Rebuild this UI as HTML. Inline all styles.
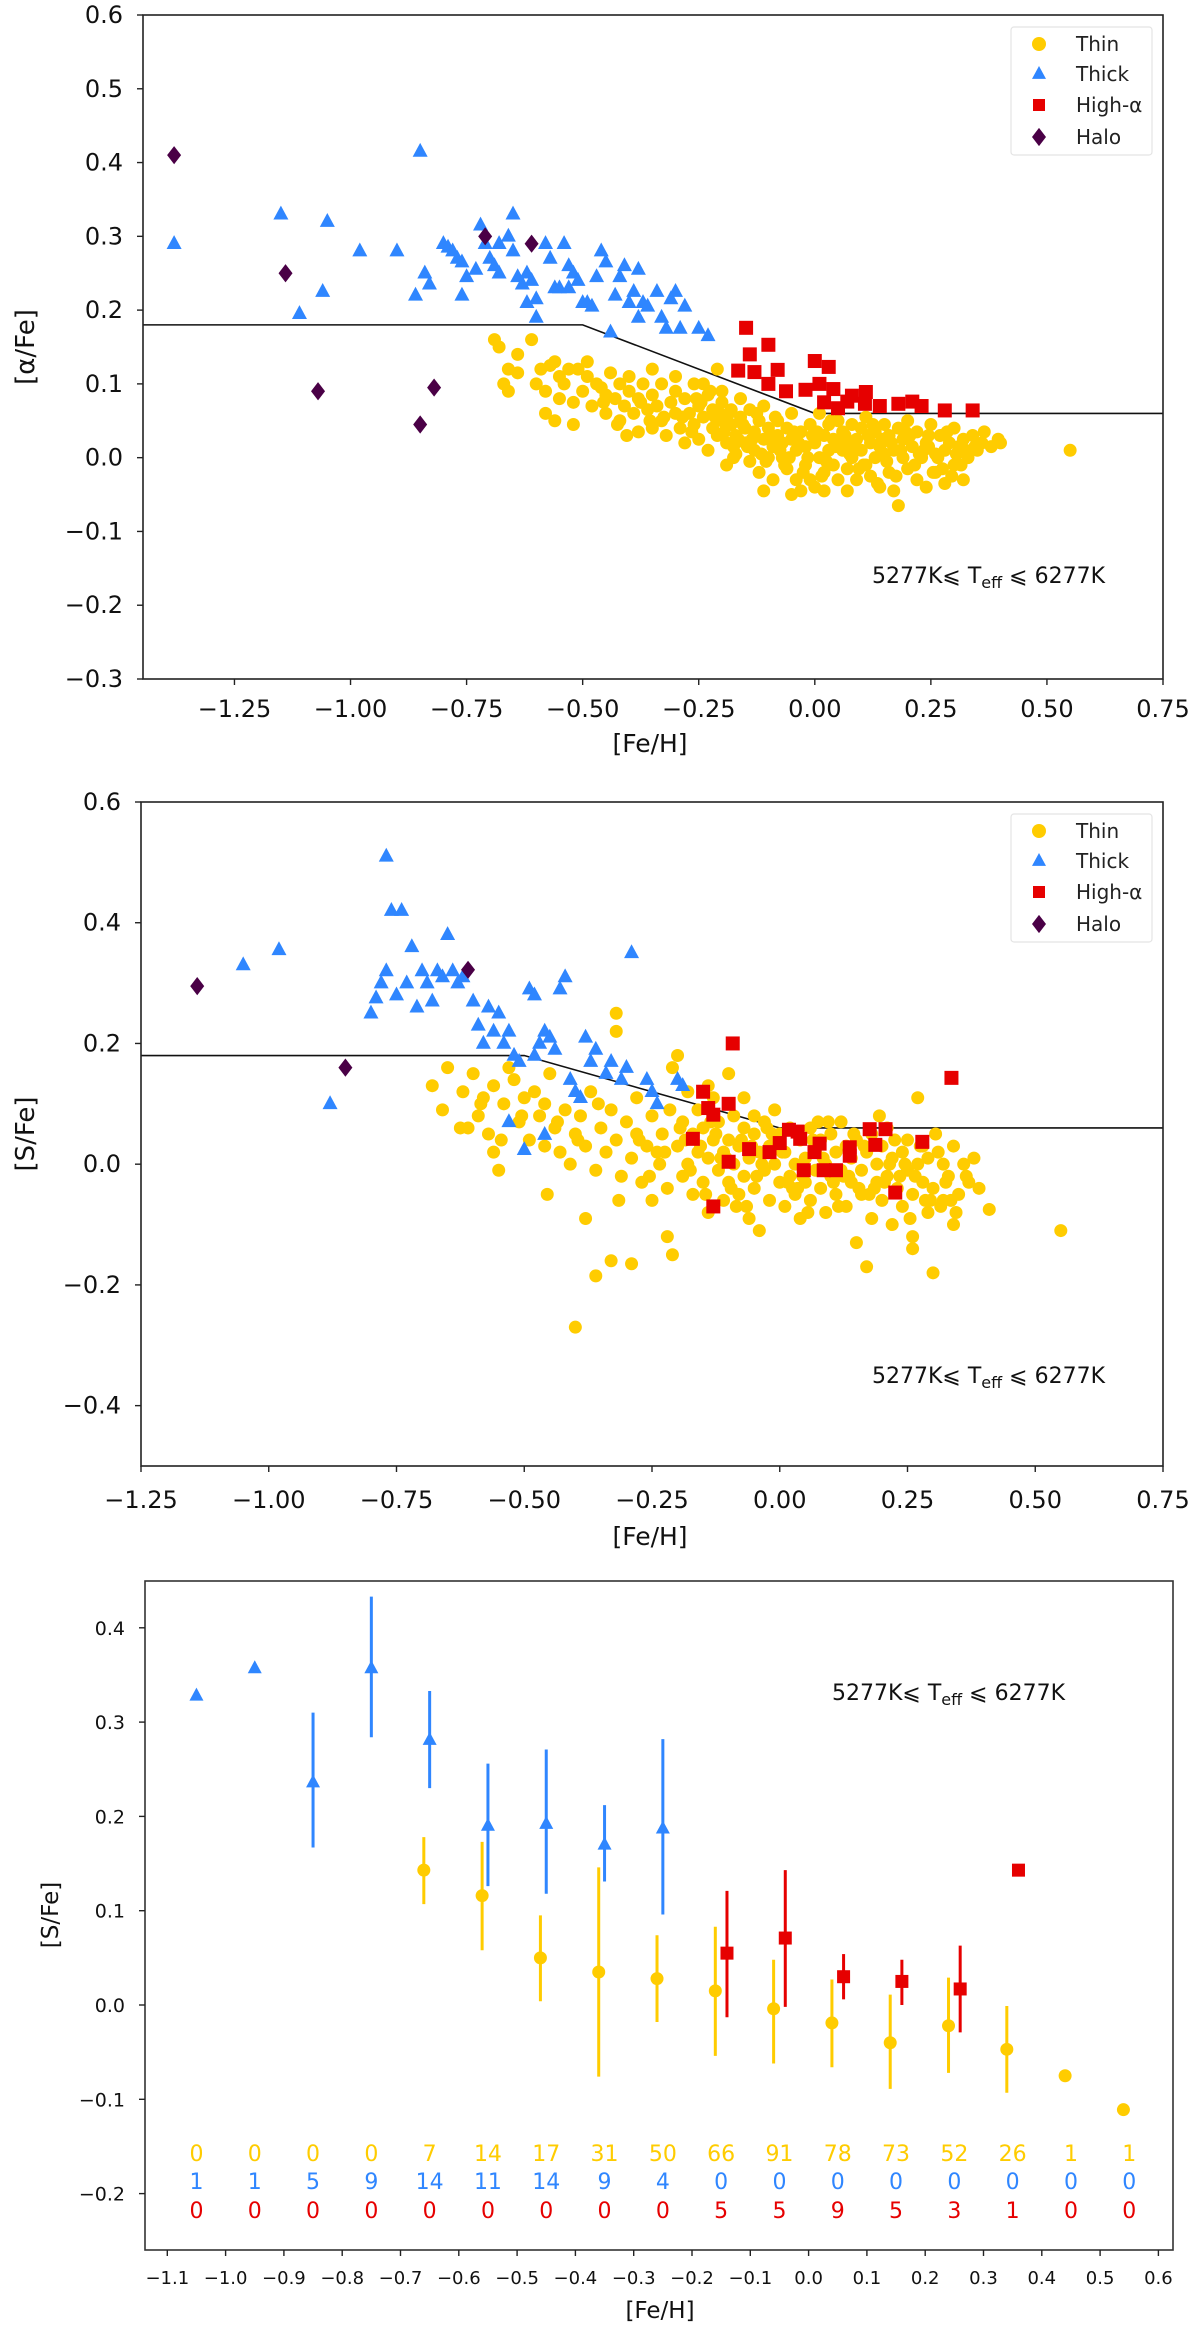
<!DOCTYPE html>
<html><head><meta charset="utf-8"><style>
html,body{margin:0;padding:0;background:#fff;}
svg{display:block;font-family:"DejaVu Sans","Liberation Sans",sans-serif;}
</style></head><body>
<svg id="fig" width="1200" height="2328" viewBox="0 0 1200 2328" xmlns="http://www.w3.org/2000/svg"></svg>
<script>
// ===== Panel 1 data: [alpha/Fe] vs [Fe/H] =====
const p1ThinX=[-0.69,-0.68,-0.64,-0.66,-0.67,-0.66,-0.64,-0.61,-0.60,-0.59,-0.58,-0.58,-0.57,-0.56,-0.55,-0.55,-0.54,-0.53,-0.52,-0.52,-0.51,-0.5,-0.49,-0.49,-0.48,-0.47,-0.46,-0.45,-0.45,-0.44,-0.43,-0.42,-0.42,-0.41,-0.40,-0.40,-0.39,-0.38,-0.38,-0.37,-0.36,-0.35,-0.35,-0.34,-0.33,-0.33,-0.32,-0.31,-0.30,-0.30,-0.29,-0.28,-0.28,-0.27,-0.26,-0.26,-0.25,-0.25,-0.24,-0.23,-0.23,-0.22,-0.22,-0.21,-0.21,-0.20,-0.20,-0.19,-0.19,-0.18,-0.18,-0.17,-0.17,-0.16,-0.16,-0.15,-0.15,-0.14,-0.14,-0.13,-0.13,-0.12,-0.12,-0.11,-0.11,-0.10,-0.10,-0.09,-0.09,-0.08,-0.08,-0.07,-0.07,-0.06,-0.06,-0.05,-0.05,-0.04,-0.04,-0.03,-0.03,-0.02,-0.02,-0.01,-0.01,0.0,0.0,0.01,0.01,0.02,0.02,0.03,0.03,0.04,0.04,0.05,0.05,0.06,0.06,0.07,0.07,0.08,0.08,0.09,0.09,0.10,0.10,0.11,0.11,0.12,0.12,0.13,0.13,0.14,0.14,0.15,0.15,0.16,0.16,0.17,0.17,0.18,0.18,0.19,0.19,0.20,0.20,0.21,0.22,0.22,0.23,0.24,0.24,0.25,0.26,0.26,0.27,0.28,0.28,0.29,0.30,0.30,0.31,0.32,0.32,0.33,0.34,0.35,0.36,0.38,0.40,0.55,-0.11,-0.05,0.07,0.02,-0.2,-0.24,-0.35,-0.56,-0.30,
-0.285,-0.265,-0.245,-0.215,-0.195,-0.175,-0.155,-0.135,-0.115,-0.095,-0.075,-0.055,-0.035,-0.015,0.005,0.025,0.045,0.065,0.085,0.105,0.125,0.145,0.165,0.185,0.205,0.225,0.245,0.265,0.285,0.305,0.325,0.345,-0.255,-0.205,-0.165,-0.125,-0.085,-0.045,-0.005,0.035,0.075,0.115,0.155,0.195,0.235,0.275,0.315,-0.145,-0.105,-0.065,-0.025,0.015,0.055,0.095,0.135,0.175,0.215,0.255,0.295,-0.185,-0.225,-0.325,-0.375,-0.425,-0.455,-0.355,-0.405,-0.175,0.245,0.365,0.395];
const p1ThinY=[0.16,0.15,0.14,0.12,0.10,0.09,0.115,0.16,0.10,0.12,0.09,0.06,0.125,0.13,0.08,0.11,0.10,0.12,0.075,0.045,0.12,0.09,0.13,0.11,0.07,0.10,0.095,0.085,0.06,0.115,0.08,0.10,0.05,0.07,0.09,0.11,0.06,0.08,0.035,0.10,0.065,0.085,0.04,0.07,0.10,0.05,0.03,0.075,0.09,0.06,0.04,0.08,0.02,0.06,0.10,0.045,0.07,0.025,0.055,0.085,0.01,0.04,0.065,0.03,0.12,0.05,0.075,0.02,-0.01,0.045,0.065,0.03,0.005,0.055,0.08,0.02,0.04,-0.005,0.065,0.035,0.01,0.05,-0.02,0.025,0.07,0.04,0.0,0.015,-0.03,0.05,0.03,0.0,0.02,0.04,-0.015,0.025,0.06,-0.03,0.01,0.035,-0.045,0.015,-0.01,0.045,-0.03,0.02,-0.04,0.0,0.06,0.03,-0.02,0.01,0.045,-0.01,0.025,-0.03,0.05,0.01,0.035,-0.015,0.02,0.045,0.0,0.025,-0.03,0.01,0.04,-0.01,0.055,0.02,-0.025,0.035,0.0,0.015,-0.04,0.045,0.005,-0.02,0.03,0.01,-0.045,0.04,-0.065,0.0,0.025,-0.015,0.05,0.015,-0.03,0.035,0.0,0.02,-0.04,0.045,0.005,-0.02,0.03,0.01,-0.035,0.02,0.04,-0.01,0.015,0.025,-0.03,0.0,0.03,0.01,0.02,0.015,0.02,0.01,-0.045,-0.05,-0.045,-0.045,0.09,0.10,0.12,0.05,0.11,
0.055,0.035,0.075,0.055,0.035,0.015,0.045,0.025,0.005,0.03,0.01,0.0,0.02,0.0,0.035,-0.005,0.015,0.03,0.015,-0.01,0.045,0.025,0.02,0.01,0.03,0.005,0.015,0.0,0.035,0.005,0.01,0.015,0.08,0.06,0.025,0.06,0.055,0.035,0.03,0.05,0.005,0.03,-0.005,0.035,0.01,-0.015,-0.01,0.015,-0.005,-0.01,-0.02,-0.025,0.02,-0.015,-0.035,-0.025,-0.01,-0.02,-0.025,0.06,0.09,0.055,0.075,0.045,0.075,0.05,0.03,0.0,0.03,0.035,0.025];
const p1ThickX=[-1.38,-1.15,-1.11,-1.05,-1.06,-0.98,-0.9,-0.85,-0.86,-0.84,-0.83,-0.8,-0.79,-0.78,-0.77,-0.76,-0.75,-0.76,-0.73,-0.72,-0.71,-0.7,-0.69,-0.68,-0.68,-0.66,-0.65,-0.65,-0.64,-0.63,-0.62,-0.62,-0.61,-0.6,-0.6,-0.58,-0.57,-0.56,-0.55,-0.54,-0.53,-0.53,-0.52,-0.51,-0.50,-0.49,-0.48,-0.46,-0.45,-0.44,-0.43,-0.42,-0.41,-0.4,-0.39,-0.38,-0.37,-0.36,-0.34,-0.33,-0.32,-0.31,-0.3,-0.29,-0.28,-0.25,-0.23,-0.38,-0.47];
const p1ThickY=[0.29,0.33,0.195,0.32,0.225,0.28,0.28,0.415,0.22,0.25,0.235,0.29,0.285,0.28,0.27,0.265,0.245,0.22,0.255,0.315,0.29,0.27,0.26,0.25,0.29,0.30,0.33,0.28,0.245,0.235,0.25,0.21,0.24,0.215,0.19,0.29,0.27,0.23,0.23,0.29,0.23,0.26,0.25,0.24,0.21,0.21,0.205,0.28,0.265,0.17,0.22,0.245,0.26,0.21,0.225,0.19,0.21,0.205,0.225,0.19,0.175,0.215,0.225,0.175,0.205,0.175,0.165,0.255,0.245];
const p1HighX=[-0.148,-0.10,-0.14,-0.165,-0.13,-0.08,-0.10,-0.062,-0.02,0.0,0.03,0.01,0.04,0.02,0.05,0.08,0.11,0.108,0.14,0.18,0.21,0.23,0.28,0.34,0.07];
const p1HighY=[0.176,0.153,0.14,0.118,0.116,0.119,0.10,0.09,0.092,0.131,0.123,0.10,0.093,0.075,0.067,0.084,0.089,0.073,0.07,0.073,0.076,0.07,0.064,0.064,0.076];
const p1HaloX=[-1.38,-1.14,-1.07,-0.85,-0.82,-0.71,-0.61];
const p1HaloY=[0.41,0.25,0.09,0.045,0.095,0.30,0.29];
const p1TicksX=[-1.25,-1.00,-0.75,-0.50,-0.25,0.00,0.25,0.50,0.75];
const p1TicksY=[0.6,0.5,0.4,0.3,0.2,0.1,0.0,-0.1,-0.2,-0.3];

// ===== Panel 2 data: [S/Fe] vs [Fe/H] =====
const p2ThinX=[-0.68,-0.66,-0.65,-0.62,-0.61,-0.60,-0.59,-0.58,-0.57,-0.56,-0.56,-0.55,-0.54,-0.53,-0.52,-0.51,-0.50,-0.49,-0.48,-0.47,-0.46,-0.46,-0.45,-0.44,-0.43,-0.42,-0.41,-0.40,-0.40,-0.39,-0.38,-0.38,-0.37,-0.36,-0.36,-0.35,-0.34,-0.33,-0.33,-0.32,-0.32,-0.32,-0.31,-0.30,-0.29,-0.29,-0.28,-0.28,-0.27,-0.26,-0.25,-0.25,-0.24,-0.23,-0.22,-0.22,-0.21,-0.21,-0.20,-0.20,-0.19,-0.19,-0.18,-0.18,-0.17,-0.17,-0.16,-0.16,-0.15,-0.15,-0.14,-0.14,-0.13,-0.13,-0.12,-0.12,-0.11,-0.11,-0.10,-0.10,-0.09,-0.09,-0.08,-0.08,-0.07,-0.07,-0.06,-0.06,-0.05,-0.05,-0.04,-0.04,-0.03,-0.03,-0.02,-0.02,-0.01,-0.01,0.0,0.0,0.01,0.01,0.02,0.02,0.03,0.03,0.04,0.04,0.05,0.05,0.06,0.06,0.07,0.07,0.08,0.08,0.09,0.09,0.10,0.10,0.11,0.11,0.12,0.12,0.13,0.13,0.14,0.14,0.15,0.15,0.16,0.16,0.17,0.17,0.18,0.18,0.19,0.19,0.20,0.20,0.21,0.21,0.22,0.22,0.23,0.24,0.24,0.25,0.25,0.26,0.26,0.27,0.27,0.28,0.28,0.29,0.29,0.30,0.30,0.31,0.32,0.32,0.33,0.34,0.34,0.35,0.36,0.37,0.38,0.39,0.41,0.55,-0.10,-0.07,-0.14,-0.05,0.26,
-0.275,-0.235,-0.195,-0.155,-0.115,-0.075,-0.035,0.005,0.045,0.085,0.125,0.165,0.205,0.245,0.285,0.325,0.365,-0.255,-0.215,-0.175,-0.135,-0.095,-0.055,-0.015,0.025,0.065,0.105,0.145,0.185,0.225,0.265,0.305,0.345,-0.225,-0.185,-0.145,-0.105,-0.065,-0.025,0.015,0.055,0.095,0.135,0.175,0.215,0.255,0.295,0.335,-0.435,-0.395,-0.355,-0.315,-0.455,-0.505,-0.545,-0.585,-0.625,0.035,0.075,0.115,0.155,0.195,-0.045,-0.085,-0.125,0.235,0.275,0.315];
const p2ThinY=[0.13,0.09,0.16,0.12,0.06,0.15,0.08,0.11,0.05,0.02,0.13,-0.01,0.10,0.16,0.14,0.07,0.11,0.04,0.12,0.08,0.03,0.10,0.15,0.06,0.02,0.09,0.0,0.05,-0.27,0.08,-0.09,0.03,0.12,-0.01,-0.185,0.06,0.02,-0.16,0.09,0.25,0.22,0.04,-0.02,0.07,-0.165,0.01,0.11,0.05,-0.03,0.03,0.08,-0.06,0.02,0.05,-0.04,-0.12,-0.15,0.16,0.18,0.03,0.07,-0.02,0.12,0.0,0.05,-0.05,0.09,0.02,-0.03,0.06,0.01,-0.08,0.04,0.11,-0.01,0.07,0.02,-0.06,0.04,-0.03,0.08,0.0,-0.05,0.03,0.06,-0.02,0.01,-0.09,0.05,-0.04,0.02,-0.11,0.07,-0.01,0.03,-0.06,0.0,0.09,-0.03,0.05,-0.07,0.02,0.06,-0.02,0.0,-0.05,0.04,-0.09,0.01,-0.03,0.06,-0.06,0.02,-0.01,-0.04,0.04,0.0,-0.08,0.05,-0.02,0.02,-0.05,-0.01,0.07,0.03,-0.07,-0.03,0.01,-0.13,0.04,-0.01,-0.05,0.02,-0.17,-0.09,0.05,-0.03,0.0,0.03,-0.06,-0.02,0.06,-0.1,0.01,-0.04,0.02,-0.07,0.04,-0.01,-0.05,-0.14,0.0,0.11,-0.03,0.03,-0.08,0.01,-0.18,-0.04,0.02,-0.06,0.0,-0.02,-0.1,0.03,-0.05,0.0,-0.03,0.01,-0.04,-0.075,-0.11,0.15,0.11,0.13,0.08,-0.12,
0.04,0.0,0.06,0.03,0.01,0.04,0.0,0.02,-0.02,0.01,-0.02,0.03,-0.03,0.0,-0.06,-0.03,-0.02,-0.02,0.09,-0.01,0.07,-0.04,0.03,0.05,-0.04,0.04,-0.03,0.05,-0.04,0.04,-0.02,0.05,-0.08,0.02,0.04,-0.05,0.01,-0.07,0.06,-0.03,-0.08,0.07,-0.02,-0.05,0.0,-0.09,-0.06,-0.06,0.07,0.04,0.1,-0.06,-0.05,0.08,0.04,0.1,0.06,-0.04,0.07,-0.07,-0.04,0.08,-0.02,-0.07,0.05,-0.02,0.03,-0.07];
const p2ThickX=[-1.05,-0.98,-0.88,-0.8,-0.79,-0.78,-0.77,-0.76,-0.74,-0.77,-0.75,-0.73,-0.72,-0.71,-0.7,-0.69,-0.68,-0.67,-0.66,-0.65,-0.64,-0.63,-0.62,-0.6,-0.59,-0.58,-0.57,-0.56,-0.55,-0.54,-0.53,-0.52,-0.51,-0.5,-0.49,-0.48,-0.47,-0.46,-0.45,-0.44,-0.43,-0.42,-0.41,-0.40,-0.39,-0.38,-0.37,-0.36,-0.34,-0.33,-0.31,-0.30,-0.29,-0.26,-0.25,-0.24,-0.2,-0.19,-0.53,-0.48,-0.46];
const p2ThickY=[0.33,0.355,0.10,0.25,0.275,0.3,0.51,0.42,0.42,0.32,0.28,0.3,0.36,0.26,0.32,0.3,0.27,0.32,0.31,0.38,0.32,0.3,0.31,0.27,0.23,0.2,0.26,0.22,0.25,0.2,0.22,0.18,0.17,0.024,0.29,0.28,0.2,0.22,0.21,0.19,0.29,0.31,0.14,0.12,0.11,0.21,0.17,0.19,0.15,0.17,0.14,0.16,0.35,0.14,0.12,0.1,0.14,0.13,0.07,0.18,0.049];
const p2HighX=[-0.092,0.336,-0.15,-0.10,-0.14,-0.13,-0.17,-0.06,-0.02,0.0,0.018,0.035,0.04,0.078,0.068,0.137,0.137,0.176,0.207,0.187,0.279,0.047,0.086,0.11,0.226,-0.10,-0.13];
const p2HighY=[0.20,0.143,0.12,0.10,0.093,0.082,0.042,0.025,0.02,0.035,0.057,0.054,0.042,0.034,0.02,0.028,0.014,0.058,0.058,0.032,0.037,-0.01,-0.01,-0.01,-0.047,0.004,-0.07];
const p2HaloX=[-1.14,-0.85,-0.61];
const p2HaloY=[0.295,0.16,0.322];
const p2TicksX=[-1.25,-1.00,-0.75,-0.50,-0.25,0.00,0.25,0.50,0.75];
const p2TicksY=[0.6,0.4,0.2,0.0,-0.2,-0.4];

// ===== Panel 3 data: binned means =====
const thinBinX=[-0.66,-0.56,-0.46,-0.36,-0.26,-0.16,-0.06,0.04,0.14,0.24,0.34,0.44,0.54];
const thinMean=[0.143,0.116,0.050,0.035,0.028,0.015,-0.004,-0.019,-0.040,-0.022,-0.047,-0.075,-0.111];
const thinLo=[0.107,0.058,0.004,-0.076,-0.018,-0.054,-0.062,-0.066,-0.089,-0.072,-0.093,null,null];
const thinHi=[0.178,0.173,0.095,0.146,0.074,0.083,0.048,0.027,0.011,0.029,-0.001,null,null];
const thickBinX=[-1.05,-0.95,-0.85,-0.75,-0.65,-0.55,-0.45,-0.35,-0.25];
const thickMean=[0.328,0.357,0.236,0.357,0.281,0.190,0.192,0.170,0.187];
const thickLo=[null,null,0.167,0.284,0.230,0.126,0.118,0.131,0.096];
const thickHi=[null,null,0.310,0.433,0.333,0.256,0.271,0.212,0.282];
const highBinX=[-0.14,-0.04,0.06,0.16,0.26,0.36];
const highMean=[0.055,0.071,0.030,0.025,0.017,0.143];
const highLo=[-0.013,-0.002,0.006,0.000,-0.029,null];
const highHi=[0.121,0.143,0.054,0.048,0.063,null];
const countBinX=[-1.05,-0.95,-0.85,-0.75,-0.65,-0.55,-0.45,-0.35,-0.25,-0.15,-0.05,0.05,0.15,0.25,0.35,0.45,0.55];
const countThin=[0,0,0,0,7,14,17,31,50,66,91,78,73,52,26,1,1];
const countThick=[1,1,5,9,14,11,14,9,4,0,0,0,0,0,0,0,0];
const countHigh=[0,0,0,0,0,0,0,0,0,5,5,9,5,3,1,0,0];
const p3TicksX=[-1.1,-1.0,-0.9,-0.8,-0.7,-0.6,-0.5,-0.4,-0.3,-0.2,-0.1,0.0,0.1,0.2,0.3,0.4,0.5,0.6];
const p3TicksY=[0.4,0.3,0.2,0.1,0.0,-0.1,-0.2];

const NS="http://www.w3.org/2000/svg";
const svg=document.getElementById('fig');
const YEL="#FFCC00",BLU="#2F86FF",RED="#E60000",PUR="#4A0046";
function mk(tag,attrs,parent){const e=document.createElementNS(NS,tag);for(const k in attrs)e.setAttribute(k,attrs[k]);(parent||svg).appendChild(e);return e;}
function txt(s,attrs,parent){const e=mk('text',attrs,parent);e.textContent=s;return e;}
function fmt(v,d){let s=v.toFixed(d);if(v<-1e-9)s='\u2212'+s.slice(1);return s;}

function marker(g,type,x,y,col,s){
  let e;
  if(type==='o'){e=mk('circle',{cx:x,cy:y,r:s,fill:col},g);}
  else if(type==='^'){e=mk('polygon',{points:`${x},${y-s*1.15} ${x-s},${y+s*0.7} ${x+s},${y+s*0.7}`,fill:col},g);}
  else if(type==='s'){e=mk('rect',{x:x-s,y:y-s,width:2*s,height:2*s,fill:col},g);}
  else {e=mk('polygon',{points:`${x},${y-s*1.3} ${x+s},${y} ${x},${y+s*1.3} ${x-s},${y}`,fill:col},g);}
  return e;
}

function scatterPanel(id,box,xr,yr,tx,ty,ylab,dx,sets,teffY,tickFont,xLabY,tickLabY){
  const g=mk('g',{});
  
  
  const sx=v=>box.l+(v-xr[0])/(xr[1]-xr[0])*(box.r-box.l);
  const sy=v=>box.b-(v-yr[0])/(yr[1]-yr[0])*(box.b-box.t);
  const clipId=id+'-clip';
  const cp=mk('clipPath',{id:clipId},g);mk('rect',{x:box.l,y:box.t,width:box.r-box.l,height:box.b-box.t},cp);
  const pts=mk('g',{'clip-path':`url(#${clipId})`},g);
  
  
  const lx=[xr[0],-0.5,0.0,xr[1]],ly=[0.18,0.18,0.06,0.06];
  const ln=mk('polyline',{points:lx.map((v,i)=>sx(v)+','+sy(ly[i])).join(' '),fill:'none',stroke:'#111','stroke-width':1.6},pts);
  
  
  sets.forEach(st=>{
    const sg=mk('g',{},pts);
    
    
    st.x.forEach((v,i)=>{const m=marker(sg,st.type,sx(v),sy(st.y[i]),st.col,st.size);
      
      });
  });
  const fr=mk('rect',{x:box.l,y:box.t,width:box.r-box.l,height:box.b-box.t,fill:'none',stroke:'#222','stroke-width':1.6},g);
  
  
  tx.forEach(v=>{const x=sx(v);mk('line',{x1:x,x2:x,y1:box.b,y2:box.b+6,stroke:'#222','stroke-width':1.4},g);
    const t=txt(fmt(v,2),{x:x,y:tickLabY,'text-anchor':'middle','font-size':tickFont,fill:'#111'},g);
    
    });
  ty.forEach(v=>{const y=sy(v);mk('line',{x1:box.l-6,x2:box.l,y1:y,y2:y,stroke:'#222','stroke-width':1.4},g);
    const t=txt(fmt(v,1),{x:box.l-20,y:y+8,'text-anchor':'end','font-size':tickFont,fill:'#111'},g);
    
    });
  const xl=txt('[Fe/H]',{x:650,y:xLabY,'text-anchor':'middle','font-size':25,fill:'#111'},g);
  
  
  const cy=(box.t+box.b)/2;
  const yl=txt(ylab,{x:dx,y:cy,'text-anchor':'middle','font-size':26,fill:'#111',transform:`rotate(-90 ${dx} ${cy})`},g);
  
  
  const lg=mk('g',{},g);
  
  
  mk('rect',{x:1011,y:box.t+12,width:141,height:128,rx:3,fill:'#fff',stroke:'#e4e4e4','stroke-width':1.2},lg);
  const off=[29,59,90,122];
  sets.forEach((st,i)=>{const y=box.t+off[i];
    const le=mk('g',{},lg);
    
    
    marker(le,st.type,1039,y,st.col,st.type==='s'?6:7);
    txt(st.label,{x:1076,y:y+7,'font-size':20,fill:'#222'},le);});
  const tf=txt('',{x:872,y:teffY,'font-size':22,fill:'#111'},g);
  
  
  tf.innerHTML='5277K⩽ T<tspan font-size="16" dy="5">eff</tspan><tspan dy="-5"> ⩽ 6277K</tspan>';
}

scatterPanel('alpha-fe-panel',{l:143,r:1163,t:15,b:679},[-1.447,0.75],[-0.3,0.6],p1TicksX,p1TicksY,'[\u03b1/Fe]',34,
 [{name:'thin-series',label:'Thin',type:'o',col:YEL,size:6.5,x:p1ThinX,y:p1ThinY},
  {name:'thick-series',label:'Thick',type:'^',col:BLU,size:7.5,x:p1ThickX,y:p1ThickY},
  {name:'high-alpha-series',label:'High-\u03b1',type:'s',col:RED,size:7,x:p1HighX,y:p1HighY},
  {name:'halo-series',label:'Halo',type:'d',col:PUR,size:7,x:p1HaloX,y:p1HaloY}],583,24,752,717);

scatterPanel('s-fe-panel',{l:141,r:1163,t:802,b:1466},[-1.25,0.75],[-0.5,0.6],p2TicksX,p2TicksY,'[S/Fe]',34,
 [{name:'thin-series',label:'Thin',type:'o',col:YEL,size:6.5,x:p2ThinX,y:p2ThinY},
  {name:'thick-series',label:'Thick',type:'^',col:BLU,size:7.5,x:p2ThickX,y:p2ThickY},
  {name:'high-alpha-series',label:'High-\u03b1',type:'s',col:RED,size:7,x:p2HighX,y:p2HighY},
  {name:'halo-series',label:'Halo',type:'d',col:PUR,size:7,x:p2HaloX,y:p2HaloY}],1383,24,1545,1508);

(function(){
  const g=mk('g',{});
  
  
  const box={l:145,r:1173,t:1581,b:2250};
  const sx=v=>167.3+(v+1.1)*583;
  const sy=v=>2005-v*943;
  function series(name,xs,m,lo,hi,type,col,size){
    const sg=mk('g',{},g);
    
    
    xs.forEach((v,i)=>{const x=sx(v);
      if(lo[i]!==null){const eb=mk('line',{x1:x,x2:x,y1:sy(lo[i]),y2:sy(hi[i]),stroke:col,'stroke-width':3},sg);
        
        }
      const mm=marker(sg,type,x,sy(m[i]),col,size);
      
      });
  }
  series('thin-mean-series',thinBinX,thinMean,thinLo,thinHi,'o',YEL,6.5);
  series('thick-mean-series',thickBinX,thickMean,thickLo,thickHi,'^',BLU,7);
  series('high-alpha-mean-series',highBinX,highMean,highLo,highHi,'s',RED,6.5);
  const rows=[[countThin,YEL,2153],[countThick,BLU,2181],[countHigh,RED,2210]];
  rows.forEach(r=>{r[0].forEach((c,i)=>{const t=txt(String(c),{x:sx(countBinX[i]),y:r[2]+8,'text-anchor':'middle','font-size':22,fill:r[1]},g);
    
    });});
  const fr=mk('rect',{x:box.l,y:box.t,width:box.r-box.l,height:box.b-box.t,fill:'none',stroke:'#333','stroke-width':1.6},g);
  
  
  p3TicksX.forEach(v=>{const x=sx(v);mk('line',{x1:x,x2:x,y1:box.b,y2:box.b+6,stroke:'#222','stroke-width':1.4},g);
    const t=txt(fmt(v,1),{x:x,y:2284,'text-anchor':'middle','font-size':18,fill:'#111'},g);
    
    });
  p3TicksY.forEach(v=>{const y=sy(v);mk('line',{x1:box.l-6,x2:box.l,y1:y,y2:y,stroke:'#222','stroke-width':1.4},g);
    const t=txt(fmt(v,1),{x:125,y:y+7,'text-anchor':'end','font-size':19,fill:'#111'},g);
    
    });
  const xl=txt('[Fe/H]',{x:660,y:2318,'text-anchor':'middle','font-size':23,fill:'#111'},g);
  
  
  const yl=txt('[S/Fe]',{x:58,y:1915,'text-anchor':'middle','font-size':23,fill:'#111',transform:'rotate(-90 58 1915)'},g);
  
  
  const tf=txt('',{x:832,y:1700,'font-size':22,fill:'#111'},g);
  
  
  tf.innerHTML='5277K⩽ T<tspan font-size="16" dy="5">eff</tspan><tspan dy="-5"> ⩽ 6277K</tspan>';
})();
</script>
</body></html>
